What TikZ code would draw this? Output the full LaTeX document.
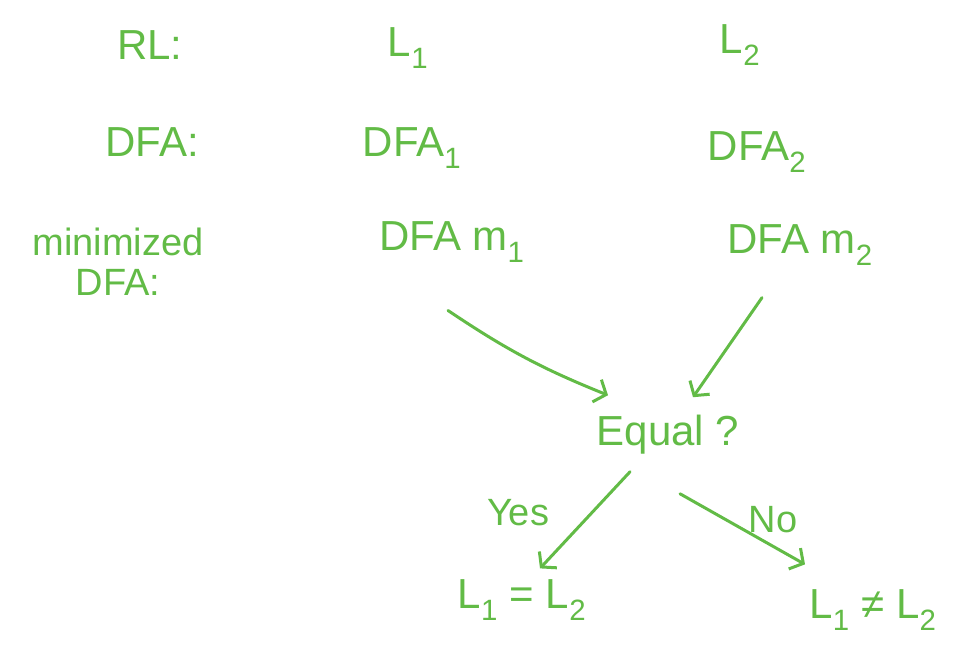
\documentclass[tikz,border=0pt]{standalone}
\usepackage{fontspec}
\setmainfont{Liberation Sans}
\usetikzlibrary{arrows.meta,positioning}
\definecolor{ink}{HTML}{62BB46}

\begin{document}
\begin{tikzpicture}[x=1pt, y=-1pt,
    lbl/.style={text=ink, font=\fontsize{42}{46}\selectfont, inner sep=2pt, align=center},
    small/.style={lbl, font=\fontsize{38}{40}\selectfont},
    arr/.style={-{Straight Barb[length=10pt,width=24pt]}, line width=3pt, ink, line cap=round, line join=round}
  ]
  \useasboundingbox (0,0) rectangle (956,645);

  % row headings
  \node[lbl] (rl) at (150,45) {RL:};
  \node[lbl] (dfa) at (152,142) {DFA:};
  \node[small] (mindfa) at (118,262) {minimized\\DFA:};

  % left column
  \node[lbl] (l1) at (408,48) {L\textsubscript{1}};
  \node[lbl] (dfa1) at (412,148) {DFA\textsubscript{1}};
  \node[lbl] (m1) at (452,242) {DFA m\textsubscript{1}};

  % right column
  \node[lbl] (l2) at (740,45) {L\textsubscript{2}};
  \node[lbl] (dfa2) at (757,152) {DFA\textsubscript{2}};
  \node[lbl] (m2) at (800,245) {DFA m\textsubscript{2}};

  % comparison
  \node[lbl] (equal) at (668,435) {Equal ?};
  \node[lbl] (same) at (522,600) {L\textsubscript{1} = L\textsubscript{2}};
  \node[lbl] (diff) at (873,610) {L\textsubscript{1} ≠ L\textsubscript{2}};
  \node[small] (yes) at (518,513) {Yes};
  \node[small] (no) at (773,520) {No};

  \draw[arr] ([xshift=-4pt,yshift=-46pt]m1.south) to[bend right=6] ([xshift=-60pt,yshift=18pt]equal.north);
  \draw[arr] ([xshift=-38pt,yshift=-30pt]m2.south) -- ([xshift=25pt,yshift=16pt]equal.north);
  \draw[arr] ([xshift=-38pt,yshift=-15pt]equal.south) -- ([xshift=18pt,yshift=9pt]same.north);
  \draw[arr] ([xshift=12pt,yshift=-37pt]equal.south) -- ([xshift=-68pt,yshift=23pt]diff.north);
\end{tikzpicture}
\end{document}
